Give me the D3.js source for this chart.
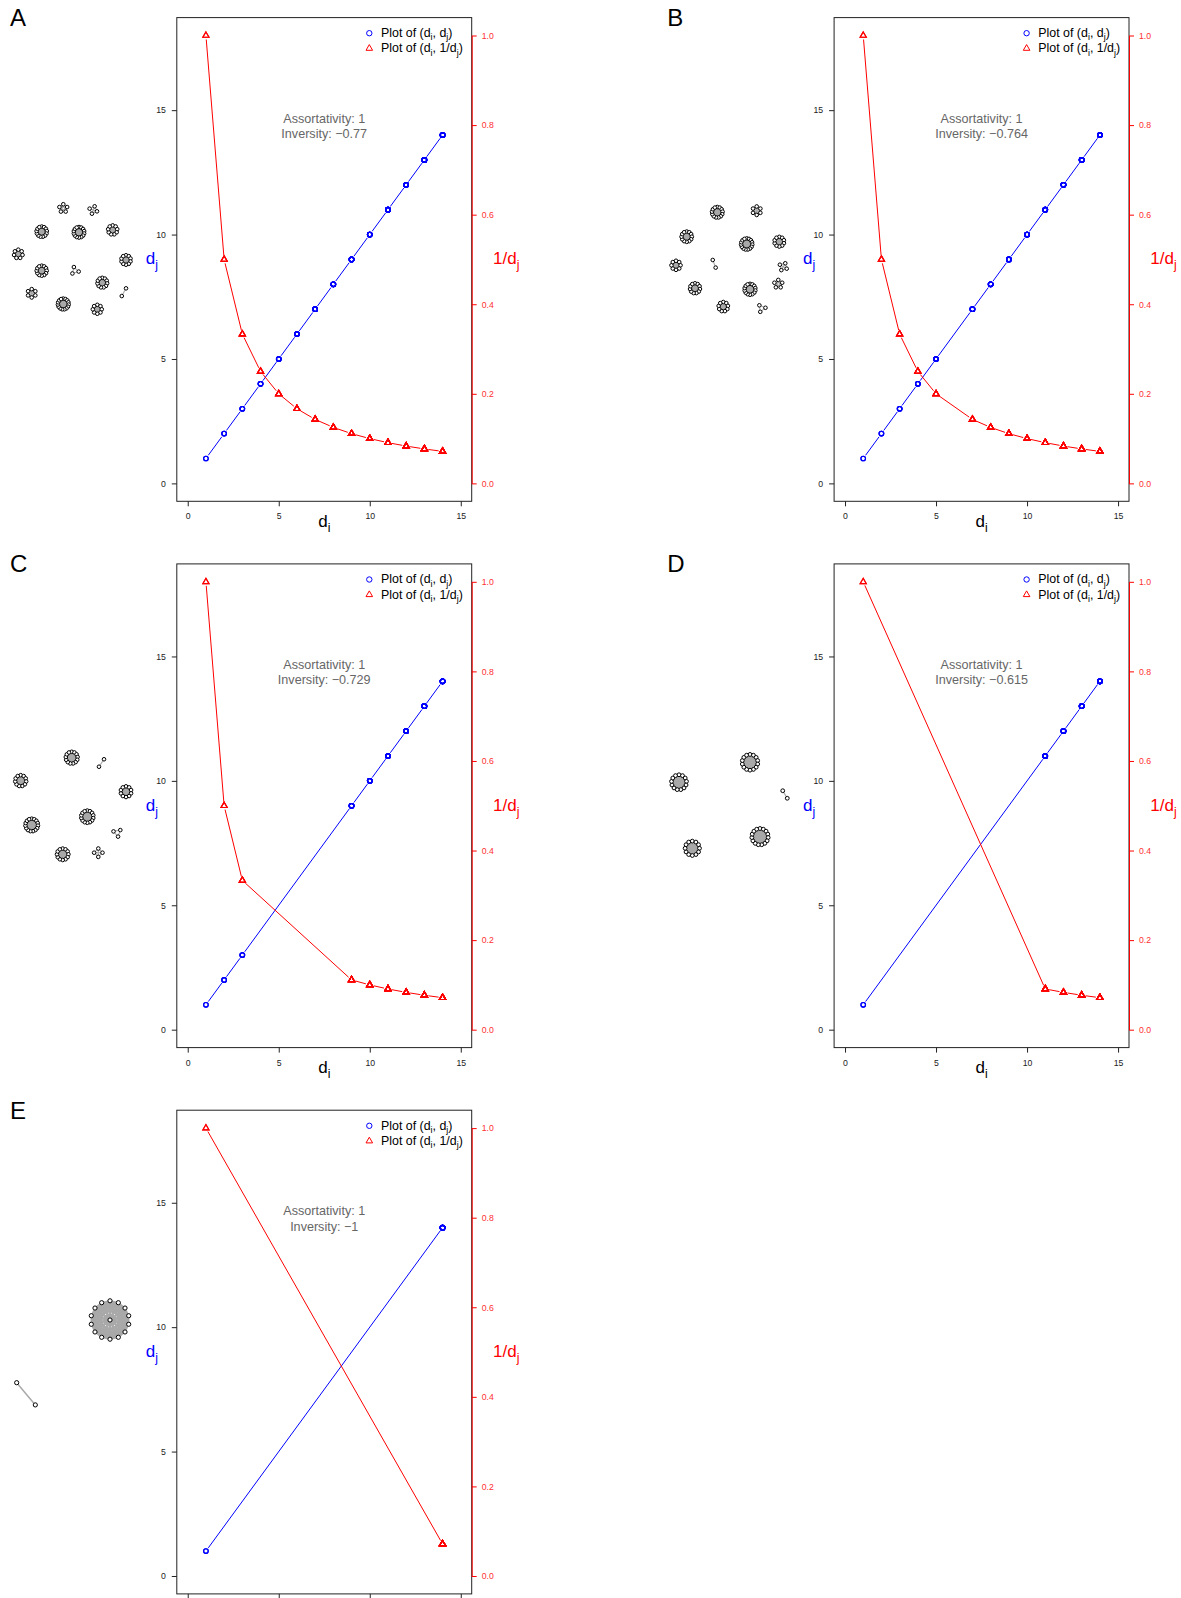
<!DOCTYPE html>
<html>
<head>
<meta charset="utf-8">
<script src="https://cdn.jsdelivr.net/npm/d3@7"></script>
<style>
  html, body { margin: 0; padding: 0; background: #fff; overflow: hidden; }
  svg { display: block; font-family: "Liberation Sans", Arial, Helvetica, sans-serif; }
</style>
</head>
<body>
<svg id="fig" width="1181" height="1598"></svg>
<script>
// Degrees present in each graph: every degree d is one complete component K_(d+1)
const degreesA = [1, 2, 3, 4, 5, 6, 7, 8, 9, 10, 11, 12, 13, 14];
const degreesB = [1, 2, 3, 4, 5, 7, 8, 9, 10, 11, 12, 13, 14];
const degreesC = [1, 2, 3, 9, 10, 11, 12, 13, 14];
const degreesD = [1, 11, 12, 13, 14];
const degreesE = [1, 14];

const panelLetters = ["A", "B", "C", "D", "E"];
const assortativity = [1, 1, 1, 1, 1];
const inversity = [-0.77, -0.764, -0.729, -0.615, -1];

const xTicks = [0, 5, 10, 15];
const yTicks = [0, 5, 10, 15];
const rightTicks = [0, 0.2, 0.4, 0.6, 0.8, 1.0];

// Network drawing of each graph: [degree, x, y, rotation in degrees] in inset units
const layoutA = [
  [4, 63.3, 18.3, 0], [3, 93.3, 20, 20], [12, 41.7, 41.7, 0], [13, 79, 42.3, 0],
  [8, 112.7, 40, 0], [6, 18.3, 64, 0], [9, 126, 70, 0], [11, 41.7, 80.7, 0],
  [2, 75, 80.7, -17], [10, 102.3, 92.7, 0], [5, 31.7, 103.3, 0], [1, 123.9, 102.2, 119],
  [14, 63.3, 114, 0], [7, 97.3, 119.3, 0]
];
const layoutB = [
  [12, 60, 22.3, 0], [5, 99.4, 20.7, 0], [11, 29.4, 46.7, 0], [14, 89.4, 54, 0],
  [9, 122, 51.7, 0], [7, 18.7, 75.3, 0], [1, 56.9, 73.8, 69], [3, 126, 76.7, 30],
  [10, 37.7, 98.3, 0], [13, 92.7, 99.3, 0], [4, 121, 94, 0], [8, 66, 116.7, 0],
  [2, 104.4, 118.3, -38]
];
const layoutC = [
  [12, 71.7, 21.4, 0], [1, 101.5, 26.7, 124], [10, 20.7, 44.4, 0], [9, 126, 55.4, 0],
  [14, 31.7, 88.7, 0], [13, 87.3, 80.4, 0], [2, 117.3, 96.4, -71], [11, 62.7, 118, 0],
  [3, 98.3, 116.4, 0]
];
const layoutD = [
  [13, 92.7, 26, 0], [12, 21.7, 46, 0], [1, 127.7, 58.2, 59], [14, 102.7, 100.4, 0],
  [11, 35, 112, 0]
];
const layoutE = [[14, 110, 37.4, 0], [1, 26, 111.2, 50]];

// Size of the component drawings in each inset
const netStyle = [
  { half: 4.4, r3: 3.8, r15: 5.4, nodeR: 1.8, edgeW: 1.1, center: false },
  { half: 4.1, r3: 3.8, r15: 5.6, nodeR: 1.8, edgeW: 1.1, center: false },
  { half: 4.5, r3: 4.0, r15: 6.3, nodeR: 1.8, edgeW: 1.1, center: false },
  { half: 4.4, r3: 4.2, r15: 8.2, nodeR: 1.9, edgeW: 1.2, center: false },
  { half: 14.5, r3: 8, r15: 19.2, nodeR: 2.1, edgeW: 1.5, center: true }
];

const panels = [
  { deg: degreesA, layout: layoutA },
  { deg: degreesB, layout: layoutB },
  { deg: degreesC, layout: layoutC },
  { deg: degreesD, layout: layoutD },
  { deg: degreesE, layout: layoutE }
];

const svg = d3.select("#fig");
const colStep = 657.3, rowStep = 546.3;
const plotL = 176.8, plotT = 17.6, plotW = 294.9, plotH = 483.7;
const BLUE = "#0000ff", RED = "#ff0000";
const fmtNum = d3.format("");

// Writes text with subscript parts: parts = [[string, isSub], ...]
function richText(sel, parts, size) {
  const sub = size * 0.72, shift = size * 0.28;
  let down = false;
  parts.forEach(([s, isSub]) => {
    const t = sel.append("tspan").text(s);
    if (isSub) {
      t.attr("font-size", sub).attr("dy", down ? 0 : shift);
      down = true;
    } else {
      t.attr("font-size", size).attr("dy", down ? -shift : 0);
      down = false;
    }
  });
}

// Line through successive points, leaving a gap around each marker
function gappedSegments(pts, gap) {
  const segs = [];
  for (let k = 0; k < pts.length - 1; k++) {
    const a = pts[k], b = pts[k + 1];
    const dx = b[0] - a[0], dy = b[1] - a[1], len = Math.hypot(dx, dy);
    if (len <= 2 * gap) continue;
    const ux = dx / len, uy = dy / len;
    segs.push([a[0] + ux * gap, a[1] + uy * gap, b[0] - ux * gap, b[1] - uy * gap]);
  }
  return segs;
}

function trianglePath(cx, cy, s) {
  const h = s * Math.sqrt(3) / 2;
  return `M${cx},${cy - h * 2 / 3}L${cx + s / 2},${cy + h / 3}L${cx - s / 2},${cy + h / 3}Z`;
}

panels.forEach((p, i) => {
  const col = i % 2, row = Math.floor(i / 2);
  const g = svg.append("g").attr("transform", `translate(${col * colStep},${row * rowStep})`);

  const x = d3.scaleLinear().domain([-0.6, 15.6]).range([plotL, plotL + plotW]);
  const y = d3.scaleLinear().domain([-0.72, 18.72]).range([plotT + plotH, plotT]);
  const yr = d3.scaleLinear().domain([0, 1]).range([y(0), y(18)]);

  // panel letter
  g.append("text").attr("x", 10).attr("y", 26).attr("font-size", 24).attr("fill", "#000")
    .text(panelLetters[i]);

  // ---- network inset ----
  const st = netStyle[i];
  const inset = g.append("g").attr("transform", "translate(0,190)");
  const radiusFor = n => st.r3 + (st.r15 - st.r3) * (n - 3) / 12;
  p.layout.forEach(([d, cx, cy, rot]) => {
    const n = d + 1;
    const a0 = rot * Math.PI / 180;
    let nodes = [];
    if (n === 2) {
      nodes = [[cx - Math.cos(a0) * st.half, cy - Math.sin(a0) * st.half],
               [cx + Math.cos(a0) * st.half, cy + Math.sin(a0) * st.half]];
    } else {
      const ringN = (st.center && n > 6) ? n - 1 : n;
      const r = radiusFor(n);
      for (let k = 0; k < ringN; k++) {
        const a = a0 - Math.PI / 2 + 2 * Math.PI * k / ringN;
        nodes.push([cx + r * Math.cos(a), cy + r * Math.sin(a)]);
      }
      if (ringN < n) nodes.push([cx, cy]);
    }
    const edges = [];
    for (let a = 0; a < nodes.length; a++)
      for (let b = a + 1; b < nodes.length; b++) edges.push([nodes[a], nodes[b]]);
    const cg = inset.append("g");
    cg.selectAll("line").data(edges).join("line")
      .attr("x1", e => e[0][0]).attr("y1", e => e[0][1])
      .attr("x2", e => e[1][0]).attr("y2", e => e[1][1])
      .attr("stroke", "#a9a9a9").attr("stroke-width", st.edgeW);
    cg.selectAll("circle").data(nodes).join("circle")
      .attr("cx", q => q[0]).attr("cy", q => q[1]).attr("r", st.nodeR)
      .attr("fill", "#fff").attr("stroke", "#000").attr("stroke-width", 1);
  });

  // ---- plot box ----
  g.append("rect").attr("x", plotL).attr("y", plotT).attr("width", plotW).attr("height", plotH)
    .attr("fill", "none").attr("stroke", "#222").attr("stroke-width", 1);

  // axes
  const tickFont = 8.7;
  const left = g.append("g").attr("transform", `translate(${plotL},0)`)
    .call(d3.axisLeft(y).tickValues(yTicks).tickSize(5).tickPadding(6).tickFormat(fmtNum));
  left.select(".domain").remove();
  left.selectAll("line").attr("stroke", "#222");
  left.selectAll("text").attr("font-size", tickFont).attr("fill", "#222").attr("font-family", null);

  const bottom = g.append("g").attr("transform", `translate(0,${plotT + plotH})`)
    .call(d3.axisBottom(x).tickValues(xTicks).tickSize(5).tickPadding(7).tickFormat(fmtNum));
  bottom.select(".domain").remove();
  bottom.selectAll("line").attr("stroke", "#222");
  bottom.selectAll("text").attr("font-size", tickFont).attr("fill", "#222").attr("font-family", null);

  const right = g.append("g").attr("transform", `translate(${plotL + plotW},0)`)
    .call(d3.axisRight(yr).tickValues(rightTicks).tickSize(5).tickSizeOuter(0).tickPadding(5)
      .tickFormat(d3.format(".1f")));
  right.select(".domain").attr("stroke", RED);
  right.selectAll("line").attr("stroke", RED);
  right.selectAll("text").attr("font-size", tickFont).attr("fill", "#ff3030").attr("font-family", null);

  // axis titles
  richText(g.append("text").attr("x", 158).attr("y", y(9) + 5).attr("text-anchor", "end")
    .attr("fill", BLUE), [["d", 0], ["j", 1]], 17);
  richText(g.append("text").attr("x", 493).attr("y", y(9) + 5).attr("fill", RED),
    [["1/d", 0], ["j", 1]], 17);
  richText(g.append("text").attr("x", plotL + plotW / 2).attr("y", 527).attr("text-anchor", "middle")
    .attr("fill", "#000"), [["d", 0], ["i", 1]], 17);

  // ---- series ----
  const gap = 4;
  const bluePts = p.deg.map(d => [x(d), y(d)]);
  const redPts = p.deg.map(d => [x(d), yr(1 / d)]);

  // one marker per node: a component K_(d+1) contributes d+1 points at the same place
  const nodePoints = p.deg.flatMap(d => d3.range(d + 1).map(() => d));

  g.append("g").selectAll("line").data(gappedSegments(bluePts, gap)).join("line")
    .attr("x1", s => s[0]).attr("y1", s => s[1]).attr("x2", s => s[2]).attr("y2", s => s[3])
    .attr("stroke", BLUE).attr("stroke-width", 1);
  g.append("g").selectAll("circle").data(nodePoints).join("circle")
    .attr("cx", d => x(d)).attr("cy", d => y(d)).attr("r", 2.3)
    .attr("fill", "none").attr("stroke", BLUE).attr("stroke-width", 1.1);

  g.append("g").selectAll("line").data(gappedSegments(redPts, gap)).join("line")
    .attr("x1", s => s[0]).attr("y1", s => s[1]).attr("x2", s => s[2]).attr("y2", s => s[3])
    .attr("stroke", RED).attr("stroke-width", 1);
  g.append("g").selectAll("path").data(nodePoints).join("path")
    .attr("d", d => trianglePath(x(d), yr(1 / d), 6.2))
    .attr("fill", "none").attr("stroke", RED).attr("stroke-width", 1.1);

  // ---- legend ----
  const lg = g.append("g");
  lg.append("circle").attr("cx", 369.3).attr("cy", 33.2).attr("r", 2.7)
    .attr("fill", "none").attr("stroke", BLUE).attr("stroke-width", 1);
  lg.append("path").attr("d", trianglePath(369.3, 48.4, 6.6))
    .attr("fill", "none").attr("stroke", RED).attr("stroke-width", 1);
  richText(lg.append("text").attr("x", 381).attr("y", 37).attr("fill", "#000"),
    [["Plot of (d", 0], ["i", 1], [", d", 0], ["j", 1], [")", 0]], 12.4);
  richText(lg.append("text").attr("x", 381).attr("y", 52.3).attr("fill", "#000"),
    [["Plot of (d", 0], ["i", 1], [", 1/d", 0], ["j", 1], [")", 0]], 12.4);

  // ---- assortativity / inversity note ----
  const note = g.append("text").attr("text-anchor", "middle").attr("fill", "#666")
    .attr("font-size", 12.6);
  note.append("tspan").attr("x", x(7.5)).attr("y", 122.5)
    .text(`Assortativity: ${fmtNum(assortativity[i])}`);
  note.append("tspan").attr("x", x(7.5)).attr("y", 138)
    .text(`Inversity: ${fmtNum(inversity[i])}`);
});
</script>
</body>
</html>
